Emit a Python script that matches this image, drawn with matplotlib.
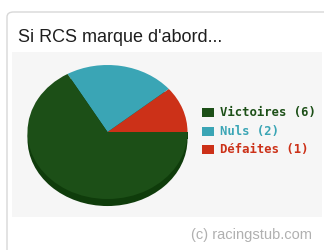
import matplotlib
matplotlib.use("Agg")
import matplotlib.pyplot as plt
from matplotlib.patches import Rectangle, FancyBboxPatch, Ellipse

# data
labels = ["Victoires", "Nuls", "Défaites"]
counts = [6, 2, 1]
colors = ["#1c4f17", "#3aa5b5", "#cc3118"]
side_color = "#0f3c0b"
title = "Si RCS marque d'abord..."
footer = "(c) racingstub.com"

W, H = 324, 250
fig = plt.figure(figsize=(W / 100, H / 100), dpi=100)
fig.patch.set_facecolor("white")


def fx(x):
    return x / W


def fy(y):
    return 1 - y / H


# card border and light panel (behind the axes)
fig.add_artist(FancyBboxPatch((fx(7), fy(262)), fx(330), 250 / H, boxstyle="round,pad=0,rounding_size=0.02",
                              transform=fig.transFigure, facecolor="white", edgecolor="#d8d8d8", lw=1,
                              zorder=-10))
fig.add_artist(Rectangle((fx(12), fy(217)), fx(310), (217 - 52) / H, transform=fig.transFigure,
                         facecolor="#f6f6f6", edgecolor="none", zorder=-9))

fig.text(fx(18), fy(42), title, fontsize=13, family="Liberation Sans", color="#1e1e1e",
         va="baseline", ha="left")
fig.text(fx(312), fy(239), footer, fontsize=10.5, family="Liberation Sans", color="#b0b0b0",
         va="baseline", ha="right")

# pie axes: elliptical pie with a little depth
ax = fig.add_axes([fx(27.5), fy(199), 160 / W, 134 / H])
ax.set_zorder(1)
depth = 0.105
ax.add_patch(Ellipse((0, -depth), 2, 2, facecolor=side_color, edgecolor="none"))
ax.add_patch(Rectangle((-1, -depth), 2, depth, facecolor=side_color, edgecolor="none"))
ax.pie(counts[::-1], colors=colors[::-1], startangle=0, counterclock=True,
       wedgeprops=dict(linewidth=0))
ax.set_aspect("auto")
ax.set_xlim(-1, 1)
ax.set_ylim(-1, 1)
for p in ax.patches:
    p.set_clip_on(False)
ax.axis("off")

# legend
row_y = [112.5, 131, 149.5]
for lab, n, c, y in zip(labels, counts, colors, row_y):
    fig.add_artist(Rectangle((fx(202), fy(y + 4.5)), 12 / W, 9 / H, transform=fig.transFigure,
                             facecolor=c, edgecolor="none"))
    fig.text(fx(220), fy(y), f"{lab} ({n})", fontsize=8.8, family="DejaVu Sans Mono",
             fontweight="bold", color=c, va="center", ha="left")

fig.savefig("out.png", dpi=100)
